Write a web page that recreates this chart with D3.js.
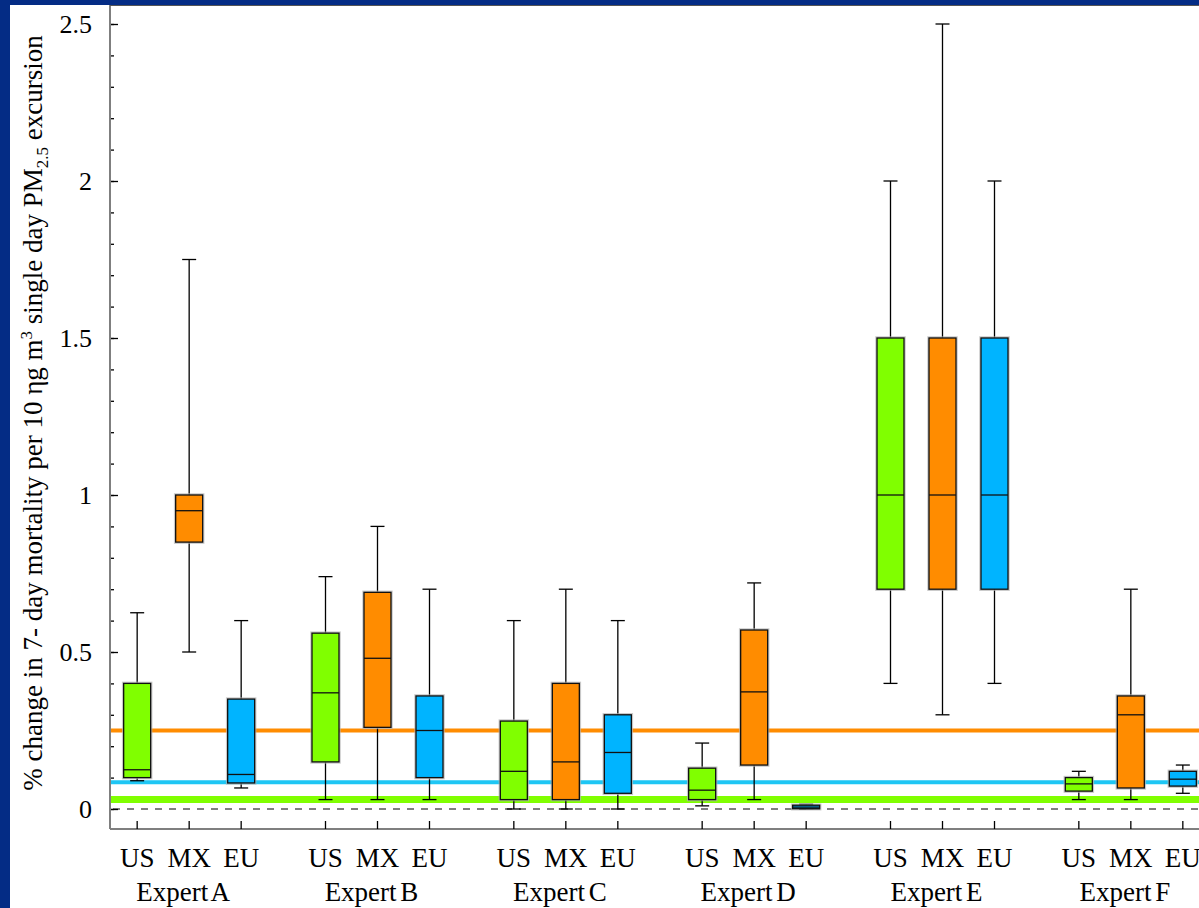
<!DOCTYPE html>
<html>
<head>
<meta charset="utf-8">
<script src="https://cdn.jsdelivr.net/npm/d3@7"></script>
<style>
  html, body { margin: 0; padding: 0; background: #fff; }
  svg { display: block; }
</style>
</head>
<body>
<svg id="chart" width="1199" height="908"></svg>
<script>
// experts and regions, boxes are listed expert by expert, in region order US, MX, EU
const experts = ["Expert A", "Expert B", "Expert C", "Expert D", "Expert E", "Expert F"];
const regions = ["US", "MX", "EU"];

const whiskerLow  = [0.09, 0.50, 0.067,  0.03, 0.03, 0.03,  0.0, 0.0, 0.0,  0.01, 0.03, 0.0,    0.4, 0.3, 0.4,  0.03, 0.03, 0.05];
const q1          = [0.10, 0.85, 0.083,  0.15, 0.26, 0.10,  0.03, 0.03, 0.05,  0.03, 0.14, 0.001,  0.7, 0.7, 0.7,  0.057, 0.067, 0.073];
const medians     = [0.125, 0.95, 0.11,  0.37, 0.48, 0.25,  0.12, 0.15, 0.18,  0.06, 0.373, 0.006, 1.0, 1.0, 1.0,  0.08, 0.30, 0.095];
const q3          = [0.40, 1.00, 0.35,   0.56, 0.69, 0.36,  0.28, 0.40, 0.30,  0.13, 0.57, 0.012,  1.5, 1.5, 1.5,  0.10, 0.36, 0.12];
const whiskerHigh = [0.625, 1.75, 0.60,  0.74, 0.90, 0.70,  0.60, 0.70, 0.60,  0.21, 0.72, 0.015,  2.0, 2.5, 2.0,  0.12, 0.70, 0.14];

// pooled reference levels drawn across the whole plot
const refRegions = ["MX", "EU", "US"];
const refValues = [0.25, 0.085, 0.03];

const majorTicks = [0, 0.5, 1, 1.5, 2, 2.5];
const minorTicks = d3.range(0, 26).map(i => i / 10);

const colors = { US: "#80ff00", MX: "#ff8c00", EU: "#00b4ff" };
const refColors = { US: "#80ff00", MX: "#ff8c00", EU: "#1ec6f4" };
const refWidths = { US: 7, MX: 4, EU: 4 };

const serif = '"Liberation Serif", "DejaVu Serif", serif';
const W = 1199, H = 908;
const plot = { left: 110, right: 1199, top: 5, bottom: 829 };

const svg = d3.select("#chart");

// blue slide frame
svg.append("rect").attr("width", W).attr("height", H).attr("fill", "#042c85");
svg.append("rect").attr("x", 10).attr("y", 5).attr("width", W - 10).attr("height", H - 5).attr("fill", "#fff");

const y = d3.scaleLinear().domain([0, 2.5]).range([809, 24]);
const xGroup = d3.scaleBand().domain(experts).range([95, 1225]);
const xRegion = d3.scalePoint().domain(regions).range([-52, 52]);

const boxes = [];
experts.forEach((e, i) => {
    regions.forEach((r, j) => {
        const k = i * 3 + j;
        boxes.push({
            expert: e, region: r,
            x: xGroup(e) + xGroup.bandwidth() / 2 + xRegion(r),
            lo: whiskerLow[k], q1: q1[k], med: medians[k], q3: q3[k], hi: whiskerHigh[k]
        });
    });
});

// zero line
svg.append("line")
    .attr("x1", plot.left).attr("x2", plot.right)
    .attr("y1", y(0)).attr("y2", y(0))
    .attr("stroke", "#000").attr("stroke-width", 1)
    .attr("stroke-dasharray", "7,7").attr("stroke-dashoffset", -3);

// reference lines
svg.selectAll(".ref")
    .data(refRegions)
    .join("line")
    .attr("class", "ref")
    .attr("x1", plot.left + 1).attr("x2", plot.right)
    .attr("y1", (d, i) => y(refValues[i])).attr("y2", (d, i) => y(refValues[i]))
    .attr("stroke", d => refColors[d])
    .attr("stroke-width", d => refWidths[d]);

// axes
const yAxisMajor = d3.axisLeft(y).tickValues(majorTicks)
    .tickSizeInner(-8).tickSizeOuter(0).tickPadding(18)
    .tickFormat(d3.format("~g"));
const yAxisMinor = d3.axisLeft(y).tickValues(minorTicks)
    .tickSizeInner(-4).tickSizeOuter(0).tickFormat("");

const gMinor = svg.append("g").attr("transform", `translate(${plot.left},0)`).call(yAxisMinor);
const gMajor = svg.append("g").attr("transform", `translate(${plot.left},0)`).call(yAxisMajor);
[gMinor, gMajor].forEach(g => {
    g.select(".domain").remove();
    g.selectAll(".tick line").attr("stroke", "#000").attr("stroke-width", 1.3);
});
gMajor.attr("font-family", serif).attr("font-size", 26);
gMajor.selectAll(".tick text")
    .attr("fill", "#000")
    .style("font-family", serif)
    .style("font-size", "26px");

// axis lines
svg.append("line")
    .attr("x1", plot.left).attr("x2", plot.left)
    .attr("y1", plot.top).attr("y2", plot.bottom)
    .attr("stroke", "#7f7f7f").attr("stroke-width", 2);
svg.append("line")
    .attr("x1", plot.left).attr("x2", plot.right)
    .attr("y1", plot.bottom).attr("y2", plot.bottom)
    .attr("stroke", "#7f7f7f").attr("stroke-width", 2);
svg.append("line")
    .attr("x1", plot.left).attr("x2", plot.right)
    .attr("y1", plot.top + 0.5).attr("y2", plot.top + 0.5)
    .attr("stroke", "#555").attr("stroke-width", 1.2);

// x ticks and labels
svg.selectAll(".xtick")
    .data(boxes)
    .join("line")
    .attr("class", "xtick")
    .attr("x1", d => d.x).attr("x2", d => d.x)
    .attr("y1", plot.bottom).attr("y2", plot.bottom - 8)
    .attr("stroke", "#000").attr("stroke-width", 1.3);

svg.selectAll(".rlabel")
    .data(boxes)
    .join("text")
    .attr("class", "rlabel")
    .attr("x", d => d.x).attr("y", 867)
    .attr("text-anchor", "middle")
    .style("font-family", serif)
    .style("font-size", "27px")
    .text(d => d.region);

svg.selectAll(".elabel")
    .data(experts)
    .join("text")
    .attr("class", "elabel")
    .attr("x", d => xGroup(d) + xGroup.bandwidth() / 2 - 6).attr("y", 901)
    .attr("text-anchor", "middle")
    .style("font-family", serif)
    .style("font-size", "27px")
    .style("word-spacing", "-3px")
    .text(d => d);

// whiskers
const capW = 14, boxW = 27;
const wg = svg.append("g");
wg.selectAll(".whisker")
    .data(boxes)
    .join("line")
    .attr("x1", d => d.x).attr("x2", d => d.x)
    .attr("y1", d => y(d.lo)).attr("y2", d => y(d.hi))
    .attr("stroke", "#000").attr("stroke-width", 1.3);
["lo", "hi"].forEach(key => {
    wg.selectAll(".cap-" + key)
        .data(boxes)
        .join("line")
        .attr("x1", d => d.x - capW / 2).attr("x2", d => d.x + capW / 2)
        .attr("y1", d => y(d[key])).attr("y2", d => y(d[key]))
        .attr("stroke", "#000").attr("stroke-width", 1.3);
});

// boxes with a soft grey halo
const bg = svg.append("g");
bg.selectAll(".halo")
    .data(boxes)
    .join("rect")
    .attr("x", d => d.x - boxW / 2).attr("y", d => y(d.q3))
    .attr("width", boxW).attr("height", d => y(d.q1) - y(d.q3))
    .attr("fill", "none").attr("stroke", "#b0b0b0").attr("stroke-width", 3.5)
    .attr("opacity", 0.7);
bg.selectAll(".box")
    .data(boxes)
    .join("rect")
    .attr("x", d => d.x - boxW / 2).attr("y", d => y(d.q3))
    .attr("width", boxW).attr("height", d => y(d.q1) - y(d.q3))
    .attr("fill", d => colors[d.region])
    .attr("stroke", "#111").attr("stroke-width", 1.3);
bg.selectAll(".median")
    .data(boxes)
    .join("line")
    .attr("x1", d => d.x - boxW / 2).attr("x2", d => d.x + boxW / 2)
    .attr("y1", d => y(d.med)).attr("y2", d => y(d.med))
    .attr("stroke", "#111").attr("stroke-width", 1.3);

// y title
const title = svg.append("text")
    .attr("transform", "translate(42,413) rotate(-90)")
    .attr("text-anchor", "middle")
    .style("font-family", serif)
    .style("font-size", "27px");
title.append("tspan").text("% change in 7- day mortality per 10 \u03b7g m");
title.append("tspan").attr("dy", -10).style("font-size", "17px").text("3");
title.append("tspan").attr("dy", 10).text(" single day PM");
title.append("tspan").attr("dy", 6).style("font-size", "17px").text("2.5");
title.append("tspan").attr("dy", -6).text(" excursion");
</script>
</body>
</html>
